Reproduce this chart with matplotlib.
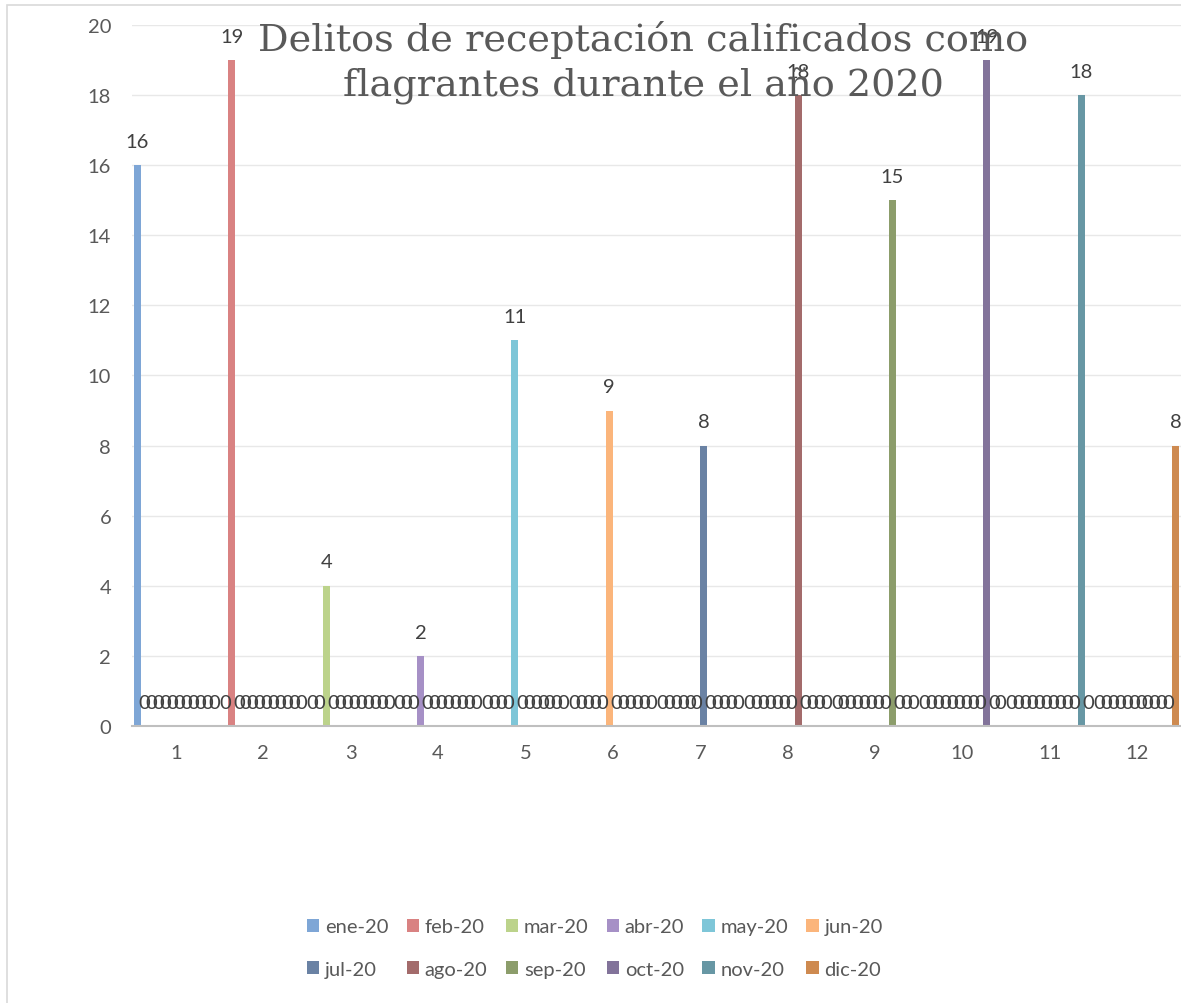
import numpy as np
import matplotlib
matplotlib.use("Agg")
import matplotlib.pyplot as plt
from matplotlib.patches import Rectangle, Patch

# Monthly counts; each month occupies its own category slot
categories = [1, 2, 3, 4, 5, 6, 7, 8, 9, 10, 11, 12]
series_names = ["ene-20", "feb-20", "mar-20", "abr-20", "may-20", "jun-20",
                "jul-20", "ago-20", "sep-20", "oct-20", "nov-20", "dic-20"]
month_values = [16, 19, 4, 2, 11, 9, 8, 18, 15, 19, 18, 8]
series_colors = ["#7EA6D6", "#D98282", "#BCD38B", "#A690C6", "#7EC6D8", "#FBB57B",
                 "#6A82A4", "#A36B6B", "#8C9D6B", "#82739A", "#6797A4", "#CE8A50"]
y_ticks = [0, 2, 4, 6, 8, 10, 12, 14, 16, 18, 20]
title = "Delitos de receptación calificados como\nflagrantes durante el año 2020"

text_color = "#595959"
label_font = ["Lato", "DejaVu Sans"]
fs = 14.5

W, H = 1181, 1004
fig = plt.figure(figsize=(W / 100, H / 100), dpi=100)
ax = fig.add_axes([132 / W, 1 - 727 / H, 1 - 132 / W, (727 - 26) / H])

n_series = len(series_names)
# series s has its value in category s, zero elsewhere
table = np.zeros((n_series, len(categories)))
for s, v in enumerate(month_values):
    table[s, s] = v

bar_w = 0.0796
x = np.array(categories, dtype=float)
for s in range(n_series):
    xs = x + (s - (n_series - 1) / 2) * bar_w
    ax.bar(xs, table[s], width=bar_w, color=series_colors[s], zorder=3,
           linewidth=0)
    for xi, v in zip(xs, table[s]):
        ax.text(xi, v + 0.68, f"{int(v)}", ha="center", va="center",
                fontsize=fs, color="#404040", family=label_font, zorder=5,
                clip_on=False)

ax.set_xlim(0.5, 12.5)
ax.set_ylim(0, 20)
ax.set_yticks(y_ticks)
ax.set_xticks(categories)
ax.set_xticklabels([str(c) for c in categories])
ax.tick_params(axis="both", length=0, labelsize=fs, labelcolor=text_color)
ax.tick_params(axis="y", pad=15)
ax.tick_params(axis="x", pad=13)
for lab in ax.get_xticklabels() + ax.get_yticklabels():
    lab.set_family(label_font)
ax.grid(axis="y", color="#E8E8E8", linewidth=1, zorder=0)
for side in ("top", "right", "left"):
    ax.spines[side].set_visible(False)
ax.spines["bottom"].set_color("#BFBFBF")
ax.spines["bottom"].set_linewidth(1.5)
ax.spines["bottom"].set_zorder(4)

# chart title over the plot area
fig.text(643 / W, 1 - 63 / H, title, ha="center", va="center",
         fontsize=27.5, color=text_color, family=["DejaVu Serif"],
         linespacing=1.28, zorder=10)

# legend: two rows of six, filled row by row
handles = [Patch(facecolor=c, edgecolor="none") for c in series_colors]
order = []
for col in range(6):
    order += [col, col + 6]
leg = fig.legend([handles[i] for i in order], [series_names[i] for i in order],
                 ncol=6, loc="center", bbox_to_anchor=(595 / W, 1 - 949 / H),
                 frameon=False, handlelength=0.6, handleheight=0.6,
                 handletextpad=0.3, columnspacing=0.9, labelspacing=1.25,
                 prop={"family": label_font, "size": fs})
for t in leg.get_texts():
    t.set_color(text_color)

# outer chart border
fig.patches.append(Rectangle((7 / W, -0.1), 1.2, 1 - 6 / H + 0.1,
                             transform=fig.transFigure, fill=False,
                             edgecolor="#D9D9D9", linewidth=1.2))

fig.savefig("out.png", dpi=100)
